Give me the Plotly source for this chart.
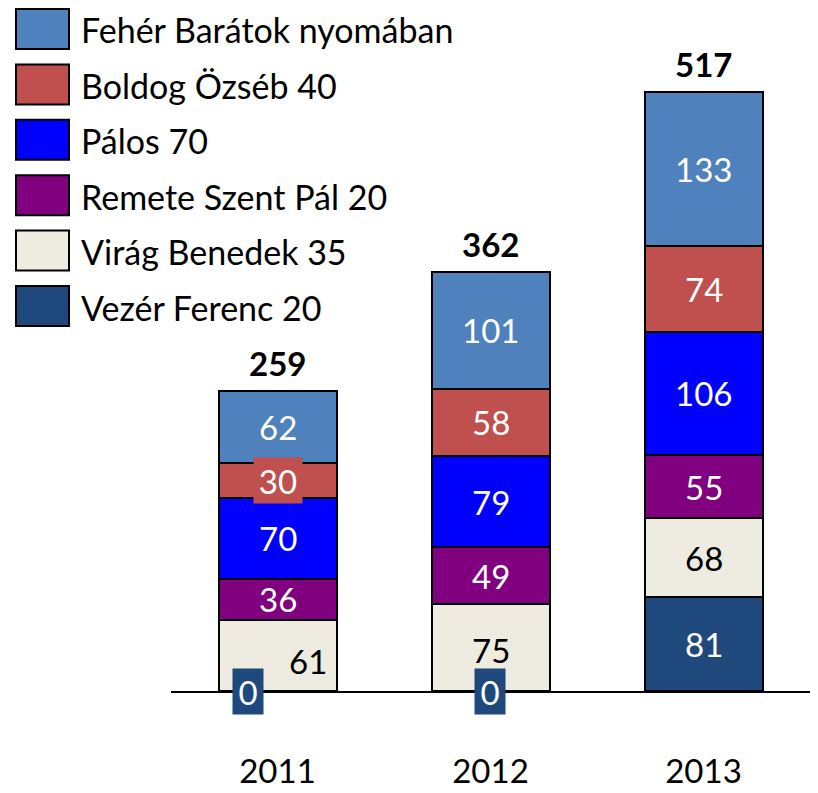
import plotly.graph_objects as go

years = ["2011", "2012", "2013"]
series_names = ["Vezér Ferenc 20", "Virág Benedek 35", "Remete Szent Pál 20",
                "Pálos 70", "Boldog Özséb 40", "Fehér Barátok nyomában"]
vezer = [0, 0, 81]
virag = [61, 75, 68]
remete = [36, 49, 55]
palos = [70, 79, 106]
boldog = [30, 58, 74]
feher = [62, 101, 133]
series_values = [vezer, virag, remete, palos, boldog, feher]
colors = ["#1F497D", "#EEECE1", "#800080", "#0000FF", "#C0504D", "#4F81BD"]
label_colors = ["white", "black", "white", "white", "white", "white"]

FONT = "Lato"
FS = 33
LFS = 34

OFF = 8  # page body margin
W, H = 818 - OFF, 793 - OFF
ML, MT = 171 - OFF, 40 - OFF
PW, PH = 639, 651
MR, MB = W - ML - PW, H - MT - PH

def px(x):
    return (x - OFF - ML) / PW

def py(y):
    return 1 - (y - OFF - MT) / PH

fig = go.Figure()
for name, vals, col in zip(series_names, series_values, colors):
    fig.add_trace(go.Bar(x=years, y=vals, name=name, marker_color=col,
                         marker_line_color="black", marker_line_width=2,
                         width=0.554, showlegend=False, hoverinfo="skip"))

annotations = []
totals = [sum(v[i] for v in series_values) for i in range(len(years))]
for i, yr in enumerate(years):
    base = 0
    for s, vals in enumerate(series_values):
        v = vals[i]
        mid = base + v / 2
        kw = dict(x=i, y=mid, text=str(v), showarrow=False,
                  font=dict(family=FONT, size=FS, color=label_colors[s]),
                  xref="x", yref="y", borderpad=0)
        if v == 0:
            kw.update(bgcolor=colors[s], font=dict(family=FONT, size=FS, color="white"),
                      width=30, height=45,
                      xshift=-30 if i == 0 else -1, yshift=0)
        elif s == 1 and i == 0:
            kw.update(xshift=30, yshift=-5)
        elif s == 1 and i == 1:
            kw.update(yshift=-2)
        elif s == 4 and i == 0:
            kw.update(bgcolor=colors[s], width=48, height=45)
        annotations.append(kw)
        base += v
    annotations.append(dict(x=i, y=totals[i], text="<b>%d</b>" % totals[i],
                            showarrow=False, yanchor="middle", yshift=28,
                            font=dict(family=FONT, size=FS, color="black"),
                            xref="x", yref="y"))

# custom legend (top to bottom = reverse stack order)
shapes = []
leg_names = series_names[::-1]
leg_colors = colors[::-1]
for k, (nm, col) in enumerate(zip(leg_names, leg_colors)):
    yc = 29 + 55.4 * k
    shapes.append(dict(type="rect", xref="paper", yref="paper",
                       x0=px(16), x1=px(69), y0=py(yc + 20), y1=py(yc - 20),
                       fillcolor=col, line=dict(color="black", width=2)))
    annotations.append(dict(x=px(79), y=py(yc + 1), xref="paper", yref="paper",
                            text=nm, showarrow=False, xanchor="left", yanchor="middle",
                            font=dict(family=FONT, size=LFS, color="black")))

fig.update_layout(
    barmode="stack", width=W, height=H,
    margin=dict(l=ML, r=MR, t=MT, b=MB, autoexpand=False),
    plot_bgcolor="white", paper_bgcolor="white",
    annotations=annotations, shapes=shapes,
    xaxis=dict(type="category", range=[-0.5, 2.5], showline=True, linecolor="black",
               linewidth=2, ticks="", showgrid=False, zeroline=False,
               automargin=False,
               tickfont=dict(family=FONT, size=FS, color="black"),
               ticklabelstandoff=50),
    yaxis=dict(range=[0, 562], visible=False, showgrid=False, zeroline=False,
               automargin=False),
)

fig.write_html("out.html")
